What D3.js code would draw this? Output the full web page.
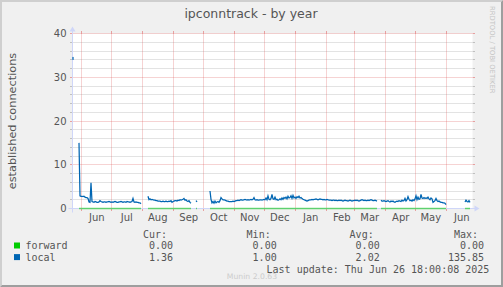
<!DOCTYPE html>
<html>
<head>
<meta charset="utf-8">
<style>
  body { margin: 0; background: #f0f0f0; }
  svg { display: block; }
</style>
</head>
<body>
<svg id="svg"></svg>
<script src="https://cdn.jsdelivr.net/npm/d3@7"></script>
<script>
var width = 503, height = 287;

// daily averages of "local", one value per day starting 2024-05-22 18:00
// null = no data (gaps in the graph)
var local = [
  34.3, null, null, null, null, null, 15.0, 2.9,
  2.8, 2.8, 2.7, 2.8, 2.6, 2.5, 2.5, 2.3, 1.5, 1.4, 5.9, 1.6,
  1.5, 1.4, 1.6, 1.5, 1.4, 1.4, 1.5, 1.8, 1.6, 1.5,
  1.4, 1.5, 1.5, 1.4, 1.5, 1.5, 1.6, 1.5, 1.4, 1.5,
  1.4, 1.5, 1.6, 1.5, 1.4, 1.4, 1.5, 1.5, 1.6, 1.5,
  1.4, 1.5, 1.5, 1.4, 1.6, 1.5, 1.5, 1.4, 1.5, 1.6,
  2.3, 1.5, 1.4, 1.5, 1.4, 1.4, 1.3, 1.3, 1.1,
  null, null, null, null, null, null,
  2.8, 2.0, 2.2, 2.0, 2.1, 2.0, 1.9,
  1.9, 1.8, 1.8, 1.7, 1.7, 1.7, 1.6,
  1.6, 1.7, 1.6, 1.6, 1.7, 1.6, 1.6, 1.7, 1.6, 1.8,
  1.4, 1.6, 1.7, 1.8, 1.8, 1.7, 1.9, 1.8, 2.0, 1.9, 2.0, 2.1,
  2.3, 1.9, 2.0, 1.7, 1.6, 1.8, 1.4, 1.2,
  null, null, null, null, 1.8, 1.5,
  null, null, null, null, null, null, null, null, null, null, null, null,
  4.0, 2.1, 1.3, 1.6, 1.2, 1.7, 1.3, 1.5, 1.6, 1.4, 1.8,
  2.5, 2.2, 2.0, 2.0, 1.9, 1.8, 1.7, 1.7, 1.6,
  1.6, 1.6, 1.6, 1.7, 1.6, 1.7, 1.8, 1.8, 1.9, 1.8,
  1.9, 2.0, 1.9, 1.9, 2.0, 2.1, 2.0, 1.9, 2.0, 1.9, 2.0, 2.1, 2.0, 2.1,
  2.5, 2.0, 1.9, 2.0, 1.9, 1.9, 2.0, 2.0, 1.9, 2.0, 2.1,
  2.0, 2.4, 2.0, 2.9, 2.1, 2.0, 2.3, 3.2, 2.2, 2.1, 2.6, 2.0, 2.1, 1.9, 2.0,
  2.2, 2.0, 2.4, 2.1, 2.5, 2.3, 2.6, 2.2, 2.8, 2.4,
  2.5, 2.9, 2.3, 3.0, 2.4, 2.6, 2.3, 2.7, 2.5, 2.8,
  2.4, 2.5, 2.3, 2.1, 2.0, 1.9, 1.8, 1.7, 1.8, 1.9, 2.0, 2.0,
  2.1, 2.0, 2.1, 2.1, 2.2, 2.1, 2.0, 2.1, 2.2, 2.1,
  2.1, 2.0, 2.1, 2.0, 2.0, 2.1, 2.0, 1.9, 1.9,
  1.9, 1.8, 1.9, 1.9, 1.8, 1.9, 1.8, 1.8, 1.9, 1.8,
  1.9, 1.8, 1.7, 1.8, 1.9, 1.8, 1.8, 1.7, 1.8, 1.9,
  1.8, 1.7, 1.8, 1.8, 1.9, 1.8, 1.9, 1.8, 1.7, 1.8,
  1.9, 2.0, 1.9, 1.8, 1.9, 1.8, 1.8, 1.9, 1.8, 1.9,
  2.0, 1.9, 1.8, 1.8, 1.9, 1.8, 1.7,
  null, null, null,
  1.9, 1.7, 1.7, 1.8, 1.7, 1.6, 1.7, 1.8, 1.6, 1.5,
  1.7, 1.6, 1.7, 1.5, 1.4, 1.6, 1.7, 1.6, 1.8, 1.7,
  1.6, 1.9, 1.7, 1.8,
  2.3, 1.7, 2.0, 2.7, 2.1, 1.8, 1.9, 1.7, 2.0, 1.8,
  2.2, 2.9, 2.0, 2.6, 2.1, 2.2, 3.2, 2.4, 2.3, 2.5,
  2.3, 2.4, 2.3, 2.6, 2.2, 2.0, 2.4, 2.2, 1.4, 1.6,
  1.8, 2.3, 1.8, 1.6, 1.7, 1.5, 1.4, 1.4, 1.3, 1.3, 1.2, 0.9,
  null, null, null, null, null, null, null, null, null,
  null, null, null, null, null, null, null, null, null,
  1.5, 1.9, 1.6, 1.5, 1.8, 1.4
];
// forward reads 0 wherever there is data
var forward = local.map(function (v) { return v == null ? null : 0; });

var yMajor = [0, 10, 20, 30, 40];
var monthLabels = ["Jun", "Jul", "Aug", "Sep", "Oct", "Nov", "Dec",
                   "Jan", "Feb", "Mar", "Apr", "May", "Jun"];
var legendHeads = ["Cur:", "Min:", "Avg:", "Max:"];
var forwardStats = ["0.00", "0.00", "0.00", "0.00"];
var localStats = ["1.36", "1.00", "2.02", "135.85"];

var t0 = new Date(2024, 4, 22, 18), t1 = new Date(2025, 5, 26, 18);

var svg = d3.select("#svg").attr("width", width).attr("height", height);

var x = d3.scaleTime().domain([t0, t1]).range([72.5, 472.5]);
var y = d3.scaleLinear().domain([0, 40]).range([208.5, 33.5]);

function px(v) { return Math.floor(v) + 0.5; }

var SANS = "'DejaVu Sans', sans-serif", MONO = "'DejaVu Sans Mono', monospace";
var FONT = "#555555";

// background + 3d frame
svg.append("rect").attr("width", width).attr("height", height).attr("fill", "#f0f0f0");
svg.append("polygon").attr("points", "0,0 503,0 501,2 2,2 2,285 0,287").attr("fill", "#cfcfcf");
svg.append("polygon").attr("points", "503,0 503,287 0,287 2,285 501,285 501,2").attr("fill", "#9e9e9e");

// canvas
svg.append("rect").attr("x", 72.5).attr("y", 33.5).attr("width", 400).attr("height", 175).attr("fill", "#fff");

var GRID = "rgba(143,143,143,0.5)", MGRID = "rgba(222,79,79,0.5)";

// minor horizontal grid
var minor = d3.range(2, 40, 2).filter(function (v) { return v % 10 != 0; });
var g = svg.append("g");
minor.forEach(function (v) {
  var yy = px(y(v));
  g.append("line").attr("x1", 70).attr("x2", 72.5).attr("y1", yy).attr("y2", yy).attr("stroke", GRID);
  g.append("line").attr("x1", 472.5).attr("x2", 475).attr("y1", yy).attr("y2", yy).attr("stroke", GRID);
  g.append("line").attr("x1", 72.5).attr("x2", 472.5).attr("y1", yy).attr("y2", yy)
    .attr("stroke", GRID).attr("stroke-dasharray", "1,1");
});

// major horizontal grid
yMajor.forEach(function (v) {
  var yy = px(y(v));
  g.append("line").attr("x1", 70).attr("x2", 72.5).attr("y1", yy).attr("y2", yy).attr("stroke", MGRID);
  g.append("line").attr("x1", 472.5).attr("x2", 475).attr("y1", yy).attr("y2", yy).attr("stroke", MGRID);
  g.append("line").attr("x1", 72.5).attr("x2", 472.5).attr("y1", yy).attr("y2", yy)
    .attr("stroke", MGRID).attr("stroke-dasharray", "1,1");
});

// month grid
var monthStarts = d3.timeMonth.range(new Date(2024, 5, 1), new Date(2025, 6, 1));
monthStarts.forEach(function (d) {
  var xx = px(x(d));
  g.append("line").attr("x1", xx).attr("x2", xx).attr("y1", 31).attr("y2", 33.5).attr("stroke", MGRID);
  g.append("line").attr("x1", xx).attr("x2", xx).attr("y1", 208.5).attr("y2", 211).attr("stroke", MGRID);
  g.append("line").attr("x1", xx).attr("x2", xx).attr("y1", 33.5).attr("y2", 208.5)
    .attr("stroke", MGRID).attr("stroke-dasharray", "1,1");
});

// axes and arrows
var AXIS = "#cfd6f8";
svg.append("line").attr("x1", 68.5).attr("x2", 476.5).attr("y1", 208.5).attr("y2", 208.5).attr("stroke", AXIS);
svg.append("line").attr("x1", 72.5).attr("x2", 72.5).attr("y1", 212.5).attr("y2", 29.5).attr("stroke", AXIS);
svg.append("polygon").attr("points", "474.5,205.5 474.5,211.5 479.5,208.5").attr("fill", AXIS);
svg.append("polygon").attr("points", "69.5,31.5 75.5,31.5 72.5,26.5").attr("fill", AXIS);

// data lines
function dayTime(i) { return d3.timeHour.offset(t0, 24 * i + 12); }
var line = d3.line()
  .defined(function (d) { return d != null; })
  .x(function (d, i) { return x(dayTime(i)); })
  .y(function (d) { return y(Math.min(d, 40)); });

svg.append("path").attr("d", line(forward)).attr("fill", "none")
  .attr("stroke", "#00cc00").attr("stroke-opacity", 0.55).attr("stroke-width", 1.5);
svg.append("path").attr("d", line(local)).attr("fill", "none")
  .attr("stroke", "#0066b3").attr("stroke-width", 1.25);

// lone points (no neighbour) drawn as small dots
local.forEach(function (v, i) {
  if (v == null) return;
  if (local[i - 1] == null && local[i + 1] == null) {
    svg.append("rect").attr("x", x(dayTime(i)) - 0.6).attr("y", y(v) - 1.5)
      .attr("width", 1.2).attr("height", 3).attr("fill", "#0066b3");
  }
});

// y tick labels
svg.append("g").selectAll("text").data(yMajor).enter().append("text")
  .attr("x", 66.5).attr("y", function (d) { return y(d) + 3.6; })
  .attr("text-anchor", "end").attr("font-family", SANS).attr("font-size", "10px")
  .attr("fill", FONT).text(function (d) { return d; });

// month labels, centred half a month after the grid line
svg.append("g").selectAll("text").data(monthStarts).enter().append("text")
  .attr("x", function (d) { return x(d3.timeDay.offset(d, 15)); })
  .attr("y", 221)
  .attr("text-anchor", "middle").attr("font-family", SANS).attr("font-size", "10px")
  .attr("fill", FONT).text(function (d, i) { return monthLabels[i]; });

// title
svg.append("text").attr("x", 251).attr("y", 18).attr("text-anchor", "middle")
  .attr("font-family", SANS).attr("font-size", "12.5px").attr("fill", FONT)
  .text("ipconntrack - by year");

// y axis title
svg.append("text").attr("transform", "translate(15.5,121) rotate(-90)")
  .attr("text-anchor", "middle").attr("font-family", SANS).attr("font-size", "11.3px")
  .attr("fill", FONT).text("established connections");

// watermark
svg.append("text").attr("transform", "translate(490,6) rotate(90)")
  .attr("font-family", SANS).attr("font-size", "6.8px").attr("fill", "#c4c4c4")
  .text("RRDTOOL / TOBI OETIKER");

// legend
var valueX = [173, 276.7, 379.7, 484];
var leg = svg.append("g").attr("font-family", MONO).attr("font-size", "10px").attr("fill", FONT);
legendHeads.forEach(function (h, i) {
  leg.append("text").attr("x", valueX[i] - 6).attr("y", 237.7).attr("text-anchor", "end").text(h);
});
var rows = [
  { name: "forward", color: "#00cc00", stats: forwardStats, y: 249 },
  { name: "local", color: "#0066b3", stats: localStats, y: 260.6 }
];
rows.forEach(function (r) {
  svg.append("rect").attr("x", 14).attr("y", r.y - 6.5).attr("width", 6).attr("height", 6).attr("fill", r.color);
  leg.append("text").attr("x", 25.5).attr("y", r.y).text(r.name);
  r.stats.forEach(function (s, i) {
    leg.append("text").attr("x", valueX[i]).attr("y", r.y).attr("text-anchor", "end").text(s);
  });
});
leg.append("text").attr("x", 489.3).attr("y", 273.2).attr("text-anchor", "end")
  .text("Last update: Thu Jun 26 18:00:08 2025");

svg.append("text").attr("x", 252).attr("y", 279).attr("text-anchor", "middle")
  .attr("font-family", SANS).attr("font-size", "7.7px").attr("fill", "#cccccc")
  .text("Munin 2.0.63");
</script>
</body>
</html>
